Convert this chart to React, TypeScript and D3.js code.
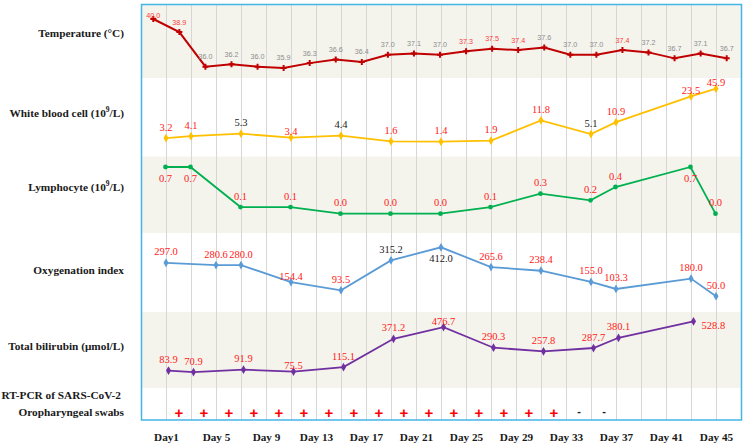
import React from 'react';
import * as d3 from 'd3';

// ---------------- data ----------------
const tempDays = [1, 3, 5, 7, 9, 11, 13, 15, 17, 19, 21, 23, 25, 27, 29, 31, 33, 35, 37, 39, 41, 43, 45];
const tempValues = [40.0, 38.9, 36.0, 36.2, 36.0, 35.9, 36.3, 36.6, 36.4, 37.0, 37.1, 37.0, 37.3, 37.5, 37.4, 37.6, 37.0, 37.0, 37.4, 37.2, 36.7, 37.1, 36.7];
const tempAbnormal = [1, 1, 0, 0, 0, 0, 0, 0, 0, 0, 0, 0, 1, 1, 1, 0, 0, 0, 1, 0, 0, 0, 0];

const wbcDays = [1, 3, 7, 11, 15, 19, 23, 27, 31, 35, 37, 43, 45];
const wbcValues = [3.2, 4.1, 5.3, 3.4, 4.4, 1.6, 1.4, 1.9, 11.8, 5.1, 10.9, 23.5, 45.9];
const wbcAbnormal = [1, 1, 0, 1, 0, 1, 1, 1, 1, 0, 1, 1, 1];
const wbcLabelPos = ['a', 'a', 'a', 'n', 'a', 'a', 'a', 'a', 'a', 'a', 'a', 'n', 'n'];

const lymDays = [1, 3, 7, 11, 15, 19, 23, 27, 31, 35, 37, 43, 45];
const lymValues = [0.7, 0.7, 0.1, 0.1, 0.0, 0.0, 0.0, 0.1, 0.3, 0.2, 0.4, 0.7, 0.0];
const lymAbnormal = [1, 1, 1, 1, 1, 1, 1, 1, 1, 1, 1, 1, 1];
const lymLabelPos = ['b', 'b', 'a', 'a', 'a', 'a', 'a', 'a', 'a', 'a', 'a', 'b', 'a'];

const oxyDays = [1, 5, 7, 11, 15, 19, 23, 27, 31, 35, 37, 43, 45];
const oxyValues = [297.0, 280.6, 280.0, 154.4, 93.5, 315.2, 412.0, 265.6, 238.4, 155.0, 103.3, 180.0, 50.0];
const oxyAbnormal = [1, 1, 1, 1, 1, 0, 0, 1, 1, 1, 1, 1, 1];
const oxyLabelPos = ['a', 'a', 'a', 'n', 'a', 'a', 'b', 'a', 'a', 'a', 'a', 'a', 'a'];

const biliDays = [1, 3, 7, 11, 15, 19, 23, 27, 31, 35, 37, 43];
const biliValues = [83.9, 70.9, 91.9, 75.5, 115.1, 371.2, 476.7, 290.3, 257.8, 287.7, 380.1, 528.8];
const biliAbnormal = [1, 1, 1, 1, 1, 1, 1, 1, 1, 1, 1, 1];
const biliLabelPos = ['a', 'a', 'a', 'n', 'a', 'a', 'n', 'a', 'a', 'a', 'a', 'r'];

const pcrDays = [2, 4, 6, 8, 10, 12, 14, 16, 18, 20, 22, 24, 26, 28, 30, 32, 34, 36];
const pcrResults = ['+', '+', '+', '+', '+', '+', '+', '+', '+', '+', '+', '+', '+', '+', '+', '+', '-', '-'];

const tickDays = [1, 5, 9, 13, 17, 21, 25, 29, 33, 37, 41, 45];
const tickLabels = ['Day1', 'Day 5', 'Day 9', 'Day 13', 'Day 17', 'Day 21', 'Day 25', 'Day 29', 'Day 33', 'Day 37', 'Day 41', 'Day 45'];

// ---------------- component ----------------
const W = 743;
const H = 444;
const RED = '#ff2020';
const BLACK = '#1a1a1a';
const SERIF = 'Liberation Serif';
const SANS = 'Liberation Sans';

type Series = {
  days: number[];
  values: number[];
  abnormal: number[];
  pos: string[];
  y: (v: number) => number;
  dx: number;
  color: string;
  symbol: d3.SymbolType;
  symSize: number;
};

export default function App() {
  const x = d3.scaleLinear().domain([1, 45]).range([166.5, 716.5]);
  const xT = d3.scaleLinear().domain([1, 45]).range([153.3, 726.7]);

  const yT = d3.scaleLinear().domain([36, 40]).range([66.7, 19]);
  const yW = d3.scaleLinear().domain([0, 23.5, 45.9]).range([144.6, 96.3, 88.7]);
  const yL = d3.scaleLinear().domain([0, 0.7]).range([213.7, 167]);
  const yO = d3.scaleLinear().domain([0, 412]).range([302.9, 247.3]);
  const yB = d3.scaleLinear().domain([0, 528.8]).range([379.9, 321.3]);

  const frame = { x0: 141.5, x1: 741.5, y0: 4.5, y1: 420 };
  const bands = [
    { y0: 4.5, y1: 78, fill: '#f4f4ec' },
    { y0: 78, y1: 156.5, fill: '#ffffff' },
    { y0: 156.5, y1: 233, fill: '#f4f4ec' },
    { y0: 233, y1: 312, fill: '#ffffff' },
    { y0: 312, y1: 388, fill: '#f4f4ec' },
    { y0: 388, y1: 420, fill: '#ffffff' },
  ];
  const gridDays = d3.range(1, 46, 2);

  const series: Series[] = [
    { days: wbcDays, values: wbcValues, abnormal: wbcAbnormal, pos: wbcLabelPos, y: yW, dx: -0.5, color: '#ffc000', symbol: d3.symbolDiamond, symSize: 22 },
    { days: lymDays, values: lymValues, abnormal: lymAbnormal, pos: lymLabelPos, y: yL, dx: -1, color: '#00b050', symbol: d3.symbolCircle, symSize: 18 },
    { days: oxyDays, values: oxyValues, abnormal: oxyAbnormal, pos: oxyLabelPos, y: yO, dx: -0.5, color: '#5b9bd5', symbol: d3.symbolDiamond, symSize: 22 },
    { days: biliDays, values: biliValues, abnormal: biliAbnormal, pos: biliLabelPos, y: yB, dx: 2, color: '#7030a0', symbol: d3.symbolDiamond, symSize: 22 },
  ];

  const rowLabels = [
    { y: 33.3, text: 'Temperature (°C)', sup: null as string | null, after: '' },
    { y: 113.3, text: 'White blood cell (10', sup: '9', after: '/L)' },
    { y: 187, text: 'Lymphocyte (10', sup: '9', after: '/L)' },
    { y: 270, text: 'Oxygenation index', sup: null, after: '' },
    { y: 346, text: 'Total bilirubin (μmol/L)', sup: null, after: '' },
  ];

  const tempLine = d3.line<number>().x((_, i) => xT(tempDays[i])).y((v) => yT(v));
  const tempSym = d3.symbol().type(d3.symbolCross).size(20)();

  return (
    <svg width={W} height={H} style={{ position: 'absolute', left: 0, top: 0, background: '#fff' }}>
      {/* bands */}
      {bands.map((b, i) => (
        <rect key={'b' + i} x={frame.x0} y={b.y0} width={frame.x1 - frame.x0} height={b.y1 - b.y0} fill={b.fill} />
      ))}
      {/* grid */}
      {gridDays.map((d) => (
        <line key={'g' + d} x1={x(d)} x2={x(d)} y1={frame.y0} y2={frame.y1} stroke="#d6d6d6" strokeWidth={1} />
      ))}

      {/* temperature */}
      <path d={tempLine(tempValues) || ''} fill="none" stroke="#c00000" strokeWidth={2} />
      {tempValues.map((v, i) => (
        <path key={'ts' + i} d={tempSym || ''} transform={`translate(${xT(tempDays[i])},${yT(v)})`} fill="#c00000" />
      ))}
      {tempValues.map((v, i) => (
        <text
          key={'tl' + i}
          x={xT(tempDays[i])}
          y={Math.max(yT(v) - 10, 15)}
          textAnchor="middle"
          dominantBaseline="central"
          style={{ fontFamily: SANS }}
          fontSize={7.2}
          fill={tempAbnormal[i] ? '#ff3b3b' : '#8c8c8c'}
        >
          {v.toFixed(1)}
        </text>
      ))}

      {/* other series */}
      {series.map((s, si) => {
        const line = d3.line<number>().x((_, i) => x(s.days[i]) + s.dx).y((v) => s.y(v));
        const sym = d3.symbol().type(s.symbol).size(s.symSize)();
        return (
          <g key={'s' + si}>
            <path d={line(s.values) || ''} fill="none" stroke={s.color} strokeWidth={1.8} />
            {s.values.map((v, i) => (
              <path key={'m' + i} d={sym || ''} transform={`translate(${x(s.days[i]) + s.dx},${s.y(v)})`} fill={s.color} />
            ))}
            {s.values.map((v, i) => {
              const p = s.pos[i];
              const px = x(s.days[i]) + s.dx;
              const py = s.y(v);
              let lx = px;
              let ly = py - 11;
              let anchor = 'middle';
              if (p === 'n') ly = py - 6;
              if (p === 'b') ly = py + 11;
              if (p === 'r') {
                lx = px + 8;
                ly = py + 4;
                anchor = 'start';
              }
              return (
                <text
                  key={'l' + i}
                  x={lx}
                  y={ly}
                  textAnchor={anchor}
                  dominantBaseline="central"
                  style={{ fontFamily: SERIF }}
                  fontSize={10.5}
                  fill={s.abnormal[i] ? RED : BLACK}
                >
                  {v.toFixed(1)}
                </text>
              );
            })}
          </g>
        );
      })}

      {/* RT-PCR results */}
      {pcrResults.map((r, i) => (
        <text
          key={'p' + i}
          x={x(pcrDays[i])}
          y={r === '+' ? 412 : 411}
          textAnchor="middle"
          dominantBaseline="central"
          style={{ fontFamily: SANS }}
          fontWeight="bold"
          fontSize={r === '+' ? 15 : 11}
          fill={r === '+' ? '#ff0000' : BLACK}
        >
          {r}
        </text>
      ))}

      {/* frame */}
      <rect x={frame.x0} y={frame.y0} width={frame.x1 - frame.x0} height={frame.y1 - frame.y0} fill="none" stroke="#45b5e6" strokeWidth={1.5} />

      {/* row labels */}
      {rowLabels.map((r, i) => (
        <text key={'r' + i} x={124} y={r.y} textAnchor="end" dominantBaseline="central" style={{ fontFamily: SERIF }} fontWeight="bold" fontSize={11.3} fill={BLACK}>
          {r.text}
          {r.sup ? (
            <tspan dy={-4} fontSize={7.5}>
              {r.sup}
            </tspan>
          ) : null}
          {r.sup ? <tspan dy={4}>{r.after}</tspan> : null}
        </text>
      ))}
      <text x={121} y={395} textAnchor="end" dominantBaseline="central" style={{ fontFamily: SERIF }} fontWeight="bold" fontSize={11.3} fill={BLACK}>
        RT-PCR of SARS-CoV-2
      </text>
      <text x={124} y={412.3} textAnchor="end" dominantBaseline="central" style={{ fontFamily: SERIF }} fontWeight="bold" fontSize={11.3} fill={BLACK}>
        Oropharyngeal swabs
      </text>

      {/* x axis labels */}
      {tickDays.map((d, i) => (
        <text key={'x' + d} x={x(d)} y={437.3} textAnchor="middle" dominantBaseline="central" style={{ fontFamily: SERIF }} fontWeight="bold" fontSize={11.2} fill={BLACK}>
          {tickLabels[i]}
        </text>
      ))}
    </svg>
  );
}
